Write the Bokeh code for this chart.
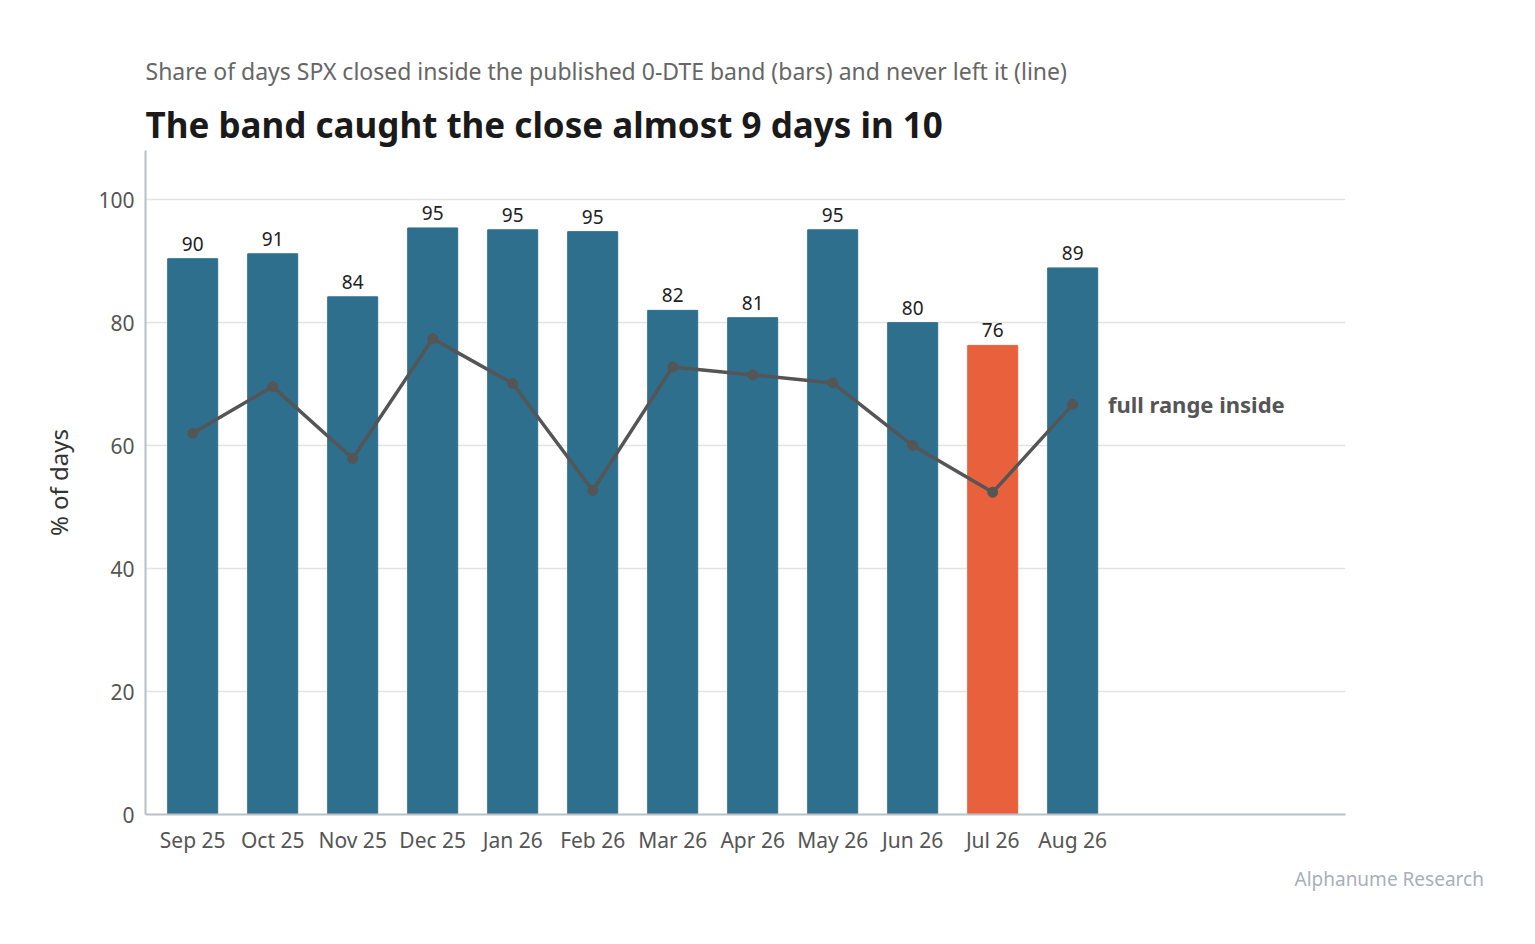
from bokeh.plotting import figure
from bokeh.models import Label, FixedTicker, ColumnDataSource, Title
from bokeh.core.properties import value
from bokeh.embed import file_html
from bokeh.resources import INLINE

months = ["Sep 25","Oct 25","Nov 25","Dec 25","Jan 26","Feb 26","Mar 26","Apr 26","May 26","Jun 26","Jul 26","Aug 26"]
closed_inside = [90.4, 91.2, 84.2, 95.4, 95.1, 94.8, 82.0, 80.8, 95.1, 80.0, 76.3, 88.9]
never_left = [62.0, 69.6, 57.9, 77.4, 70.1, 52.7, 72.8, 71.5, 70.2, 60.0, 52.4, 66.7]
highlight = "Jul 26"

FONT = "Noto Sans"
xs = list(range(len(months)))
colors = ["#e8613c" if m == highlight else "#2e6f8e" for m in months]
src = ColumnDataSource(dict(x=xs, top=closed_inside, color=colors,
                            lab=[str(int(round(v))) for v in closed_inside],
                            ly=[v + 1.3 for v in closed_inside], line=never_left))

p = figure(width=1519, height=920, x_range=(-0.59, 14.41), y_range=(0, 108),
           output_backend="svg", toolbar_location=None,
           min_border_left=145, min_border_right=174, min_border_top=150, min_border_bottom=106)
p.outline_line_color = None

p.title = Title(text="Share of days SPX closed inside the published 0-DTE band (bars) and never left it (line)",
                text_font=FONT, text_font_size="23px", text_font_style="normal",
                text_color="#666666", align="left", standoff=18)
p.add_layout(Title(text="The band caught the close almost 9 days in 10", text_font=FONT,
                   text_font_size="35px", text_font_style="bold", text_color="#1a1a1a",
                   align="left", standoff=6), "above")
p.add_layout(Title(text="Alphanume Research", text_font=FONT, text_font_size="19px",
                   text_font_style="normal", text_color="#a8b0b8", align="left",
                   offset=1149, standoff=14), "below")

p.vbar(x="x", top="top", width=0.625, color="color", source=src)
p.text(x="x", y="ly", text="lab", source=src, text_align="center", text_baseline="bottom",
       text_font=value(FONT), text_font_size="19px", text_color="#222222")
p.line(x="x", y="line", source=src, line_color="#555555", line_width=3.5)
p.scatter(x="x", y="line", source=src, size=10, color="#555555")

p.xgrid.grid_line_color = None
p.ygrid.grid_line_color = "#e3e3e3"
p.ygrid.grid_line_width = 1.5
p.yaxis.ticker = FixedTicker(ticks=[0, 20, 40, 60, 80, 100])
p.xaxis.ticker = FixedTicker(ticks=xs)
p.xaxis.major_label_overrides = {i: m for i, m in enumerate(months)}
for ax in (p.xaxis, p.yaxis):
    ax.axis_line_color = "#b8c0c8"
    ax.axis_line_width = 2
    ax.major_tick_line_color = None
    ax.minor_tick_line_color = None
    ax.major_label_text_font = FONT
    ax.major_label_text_font_size = "21px"
    ax.major_label_text_color = "#555555"
p.yaxis.axis_label = "% of days"
p.yaxis.axis_label_text_font = FONT
p.yaxis.axis_label_text_font_size = "24px"
p.yaxis.axis_label_text_font_style = "normal"
p.yaxis.axis_label_text_color = "#333333"
p.yaxis.axis_label_standoff = 20

p.add_layout(Label(x=11.44, y=never_left[-1], text="full range inside", text_baseline="middle",
                   text_font=FONT, text_font_size="22px", text_font_style="bold",
                   text_color="#555555"))

open("out.html", "w").write(file_html(p, INLINE))
